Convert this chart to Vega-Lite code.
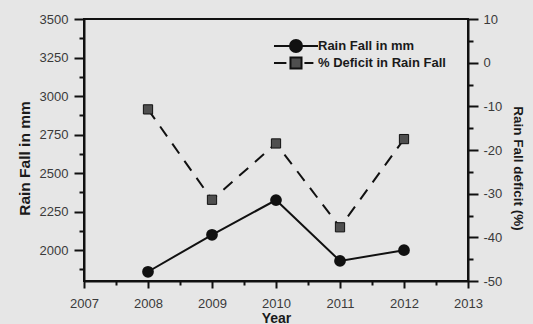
{
  "$schema": "https://vega.github.io/schema/vega-lite/v6.json",
  "autosize": "none",
  "width": 384,
  "height": 262,
  "padding": {"left": 84, "top": 19, "right": 65, "bottom": 43},
  "background": "#e6e6e6",
  "config": {
    "font": "Liberation Sans",
    "view": {"stroke": "#111", "strokeWidth": 2},
    "axis": {
      "domainColor": "#111",
      "domainWidth": 2,
      "tickColor": "#111",
      "tickWidth": 2,
      "grid": false,
      "labelFont": "Liberation Sans",
      "labelColor": "#3a3a3a",
      "labelFontSize": 13,
      "labelOverlap": false,
      "labelFlush": false,
      "titleFont": "Liberation Sans",
      "titleColor": "#1a1a1a",
      "titleFontWeight": "bold"
    },
    "legend": {
      "orient": "none",
      "legendX": 205,
      "legendY": 20,
      "padding": 0,
      "title": null,
      "symbolSize": 144,
      "symbolStrokeWidth": 2,
      "symbolOpacity": 1,
      "labelFont": "Liberation Sans",
      "labelFontSize": 13,
      "labelFontWeight": "bold",
      "labelColor": "#1a1a1a",
      "labelOffset": 15,
      "rowPadding": -14
    }
  },
  "data": {
    "values": [
      {"Year": 2008, "rain": 1860, "deficit": -10.7},
      {"Year": 2009, "rain": 2100, "deficit": -31.4},
      {"Year": 2010, "rain": 2325, "deficit": -18.5},
      {"Year": 2011, "rain": 1930, "deficit": -37.7},
      {"Year": 2012, "rain": 2000, "deficit": -17.5}
    ]
  },
  "encoding": {
    "x": {
      "field": "Year",
      "type": "quantitative",
      "scale": {"domain": [2007, 2013], "nice": false, "zero": false},
      "axis": {
        "title": "Year",
        "titleFontSize": 14,
        "titlePadding": 1,
        "values": [2007, 2007.5, 2008, 2008.5, 2009, 2009.5, 2010, 2010.5, 2011, 2011.5, 2012, 2012.5, 2013],
        "labelExpr": "datum.value % 1 ? '' : '' + datum.value",
        "tickSize": {"condition": {"test": "datum.value % 1 === 0", "value": 7}, "value": 4},
        "labelPadding": 9
      }
    }
  },
  "layer": [
    {
      "encoding": {
        "y": {
          "field": "rain",
          "type": "quantitative",
          "scale": {"domain": [1800, 3500], "nice": false, "zero": false},
          "axis": {
            "orient": "left",
            "title": "Rain Fall in mm",
            "titleFontSize": 15.5,
            "titlePadding": 7,
            "titleY": 139,
            "values": [1875, 2000, 2125, 2250, 2375, 2500, 2625, 2750, 2875, 3000, 3125, 3250, 3375, 3500],
            "labelExpr": "datum.value % 250 ? '' : '' + datum.value",
            "tickSize": {"condition": {"test": "datum.value % 250 === 0", "value": 10}, "value": 5},
            "labelPadding": 6
          }
        }
      },
      "layer": [
        {"mark": {"type": "line", "color": "#111", "strokeWidth": 2}},
        {"mark": {"type": "point", "shape": "circle", "filled": true, "fill": "#111", "stroke": "#111", "size": 95, "opacity": 1}},
        {
          "mark": {"type": "point", "strokeWidth": 2, "opacity": 0},
          "encoding": {
            "shape": {
              "datum": "Rain Fall in mm",
              "scale": {
                "domain": ["Rain Fall in mm", "% Deficit in Rain Fall"],
                "range": [
                  "M-3.67,0H3.67M-1,0A1,1 0 1,0 1,0A1,1 0 1,0 -1,0Z",
                  "M-3.67,0H-1.6M1.4,0H2.9M-0.92,-0.92H0.92V0.92H-0.92Z"
                ]
              },
              "legend": {"title": null}
            },
            "fill": {
              "datum": "Rain Fall in mm",
              "scale": {"domain": ["Rain Fall in mm", "% Deficit in Rain Fall"], "range": ["#111", "#4f4f4f"]},
              "legend": {"title": null}
            },
            "stroke": {
              "datum": "Rain Fall in mm",
              "scale": {"domain": ["Rain Fall in mm", "% Deficit in Rain Fall"], "range": ["#111", "#111"]},
              "legend": {"title": null}
            }
          }
        }
      ]
    },
    {
      "encoding": {
        "y": {
          "field": "deficit",
          "type": "quantitative",
          "scale": {"domain": [-50, 10], "nice": false, "zero": false},
          "axis": {
            "orient": "right",
            "title": "Rain Fall deficit (%)",
            "titleFontSize": 13.5,
            "titlePadding": 9,
            "titleY": 149,
            "values": [-50, -45, -40, -35, -30, -25, -20, -15, -10, -5, 0, 5, 10],
            "labelExpr": "datum.value % 10 ? '' : '' + datum.value",
            "tickSize": {"condition": {"test": "datum.value % 10 === 0", "value": 10}, "value": 5},
            "labelPadding": 5
          }
        }
      },
      "layer": [
        {"mark": {"type": "line", "color": "#111", "strokeWidth": 2, "strokeDash": [12, 9]}},
        {"mark": {"type": "point", "shape": "square", "filled": true, "fill": "#4f4f4f", "stroke": "#111", "strokeWidth": 1, "size": 85, "opacity": 1}},
        {
          "mark": {"type": "point", "strokeWidth": 2, "opacity": 0},
          "encoding": {
            "shape": {"datum": "% Deficit in Rain Fall", "legend": {"title": null}},
            "fill": {"datum": "% Deficit in Rain Fall", "legend": {"title": null}},
            "stroke": {"datum": "% Deficit in Rain Fall", "legend": {"title": null}}
          }
        }
      ]
    }
  ],
  "resolve": {"scale": {"y": "independent"}}
}
